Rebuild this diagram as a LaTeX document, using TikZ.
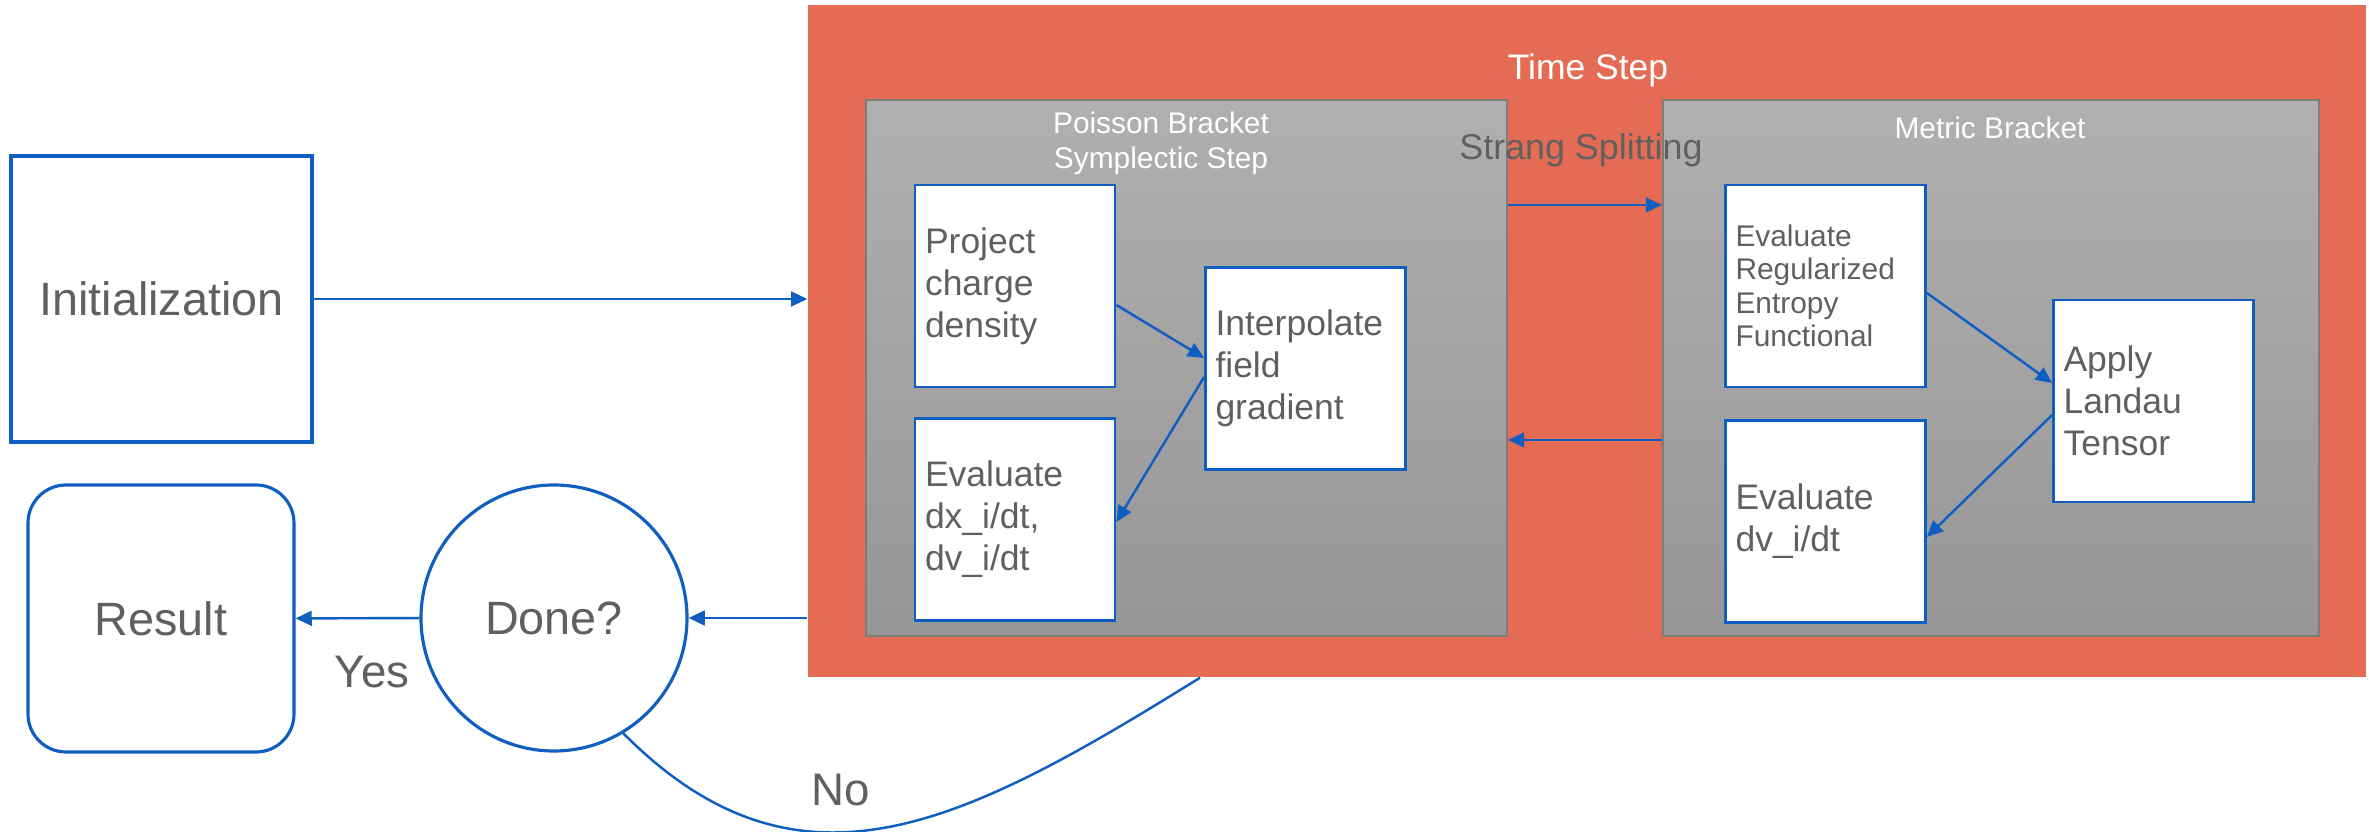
\documentclass[tikz,border=0pt]{standalone}
\usepackage{fontspec}
\setmainfont{Liberation Sans}
\usepackage{xcolor}
\usepackage{tikz}
\usetikzlibrary{arrows.meta, positioning}

\definecolor{tsorange}{RGB}{228,108,85}
\definecolor{wireblue}{RGB}{16,94,192}
\definecolor{txtgray}{RGB}{96,96,96}
\definecolor{boxtop}{RGB}{176,176,176}
\definecolor{boxbot}{RGB}{150,150,150}
\definecolor{boxedge}{RGB}{125,125,125}

\begin{document}
\begin{tikzpicture}[
		wire/.style={draw=wireblue, line width=0.7pt, -{Triangle[length=4.6pt, width=4.2pt]}},
		mainbox/.style={shape=rectangle, draw=wireblue, line width=0.9pt, fill=white, text=txtgray, font=\fontsize{13.3}{16}\selectfont},
		stepbox/.style={shape=rectangle, draw=wireblue, line width=0.8pt, fill=white, text=txtgray, align=left, text width=1.8cm, inner xsep=0.1cm, minimum height=2.02cm, font=\fontsize{10.1}{11.95}\selectfont},
		bracketbox/.style={shape=rectangle, draw=boxedge, line width=0.6pt, top color=boxtop, bottom color=boxbot, minimum height=5.36cm},
	]
		% Paths, nodes and wires:
		\path[use as bounding box, fill=white] (0,0) rectangle (23.69,-8.32);
		\node[mainbox, minimum width=3.01cm, minimum height=2.86cm](N1) at (1.615,-2.99){Initialization};
		\node[mainbox, rounded corners=0.38cm, minimum width=2.66cm, minimum height=2.67cm](N2) at (1.61,-6.185){Result};
		\node[mainbox, circle, minimum size=2.66cm](N3) at (5.54,-6.18){Done?};
		\node[shape=rectangle, fill=tsorange, inner sep=0pt, minimum width=15.58cm, minimum height=6.72cm](N4) at (15.87,-3.41){};
		\node[text=white, font=\fontsize{10.1}{12}\selectfont] at (15.88,-0.70){Time Step};
		\node[bracketbox, minimum width=6.41cm](N5) at (11.865,-3.68){};
		\node[bracketbox, minimum width=6.56cm](N6) at (19.91,-3.68){};
		\node[text=white, align=center, font=\fontsize{8.5}{10}\selectfont] at (11.61,-1.43){Poisson Bracket\\Symplectic Step};
		\node[text=white, font=\fontsize{8.5}{10}\selectfont] at (19.90,-1.275){Metric Bracket};
		\node[text=txtgray, font=\fontsize{10.2}{12}\selectfont] at (15.81,-1.50){Strang Splitting};
		\node[stepbox](N7) at (10.15,-2.86){Project\\charge\\density};
		\node[stepbox](N8) at (10.15,-5.195){Evaluate\\dx\_i/dt,\\dv\_i/dt};
		\node[stepbox](N9) at (13.055,-3.685){Interpolate\\field\\gradient};
		\node[stepbox, font=\fontsize{8.5}{9.5}\selectfont](N10) at (18.255,-2.86){Evaluate\\Regularized\\Entropy\\Functional};
		\node[stepbox](N11) at (21.535,-4.01){Apply\\Landau\\Tensor};
		\node[stepbox](N12) at (18.255,-5.215){Evaluate\\dv\_i/dt};
		\coordinate (S1) at (15.85,-2.05);
		\coordinate (S2) at (15.85,-4.40);
		\coordinate (C1) at (12.00,-6.77);
		\draw[wire] (N1) -- (N1 -| N4.west);
		\draw[wire] (N4.west |- N3) -- (N3);
		\draw[wire] (N3) -- (N2);
		\draw[wire] (N5.east |- S1) -- (N6.west |- S1);
		\draw[wire] (N6.west |- S2) -- (N5.east |- S2);
		\draw[wire] ([yshift=-0.19cm]N7.east) -- ([yshift=0.105cm]N9.west);
		\draw[wire] ([yshift=-0.085cm]N9.west) -- ([yshift=-0.025cm]N8.east);
		\draw[wire] ([yshift=-0.07cm]N10.east) -- ([yshift=0.18cm]N11.west);
		\draw[wire] ([yshift=-0.14cm]N11.west) -- ([yshift=-0.155cm]N12.east);
		\draw[draw=wireblue, line width=0.7pt] (N3.-59) .. controls (7.99,-9.10) and (9.63,-8.25) .. (C1 |- N4.south);
		\node[text=txtgray, font=\fontsize{13}{15}\selectfont] at (3.72,-6.725){Yes};
		\node[text=txtgray, font=\fontsize{13}{15}\selectfont] at (8.41,-7.90){No};
	\end{tikzpicture}
\end{document}
